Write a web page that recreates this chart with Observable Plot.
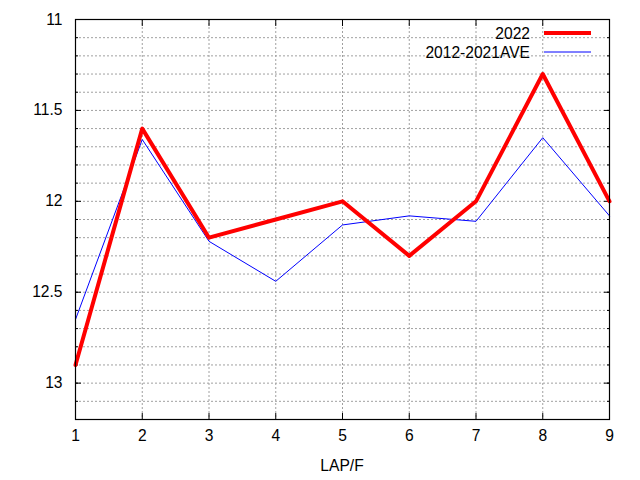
<!DOCTYPE html>
<html>
<head>
<meta charset="utf-8">
<script src="https://cdn.jsdelivr.net/npm/d3@7"></script>
<script src="https://cdn.jsdelivr.net/npm/@observablehq/plot@0.6"></script>
<style>
  html, body { margin: 0; padding: 0; background: #fff; }
  #chart { position: relative; width: 640px; height: 480px; }
</style>
</head>
<body>
<div id="chart"></div>
<script>
const laps = [1, 2, 3, 4, 5, 6, 7, 8, 9];
const values2022 = [12.9, 11.6, 12.2, 12.1, 12.0, 12.3, 12.0, 11.3, 12.0];
const valuesAve = [12.65, 11.66, 12.22, 12.44, 12.13, 12.08, 12.11, 11.65, 12.08];
const seriesNames = ["2022", "2012-2021AVE"];
const seriesColors = ["#ff0000", "#0000ff"];
const yMajorTicks = [11, 11.5, 12, 12.5, 13];
const yGridTicks = d3.range(11, 13.2001, 0.1).map(v => +v.toFixed(1));
const xLabel = "LAP/F";

const rows = [];
laps.forEach((l, i) => {
  rows.push({lap: l, value: values2022[i], series: seriesNames[0]});
  rows.push({lap: l, value: valuesAve[i], series: seriesNames[1]});
});

const font = "'Liberation Sans', Arial, sans-serif";
const fs = 15.6;

const plot = Plot.plot({
  width: 640,
  height: 480,
  marginLeft: 75,
  marginRight: 31,
  marginTop: 19,
  marginBottom: 61,
  style: {fontFamily: font, fontSize: fs + "px", color: "#000", background: "#fff"},
  x: {domain: [1, 9], label: null},
  y: {domain: [11, 13.2], reverse: true, label: null},
  marks: [
    Plot.gridY(yGridTicks, {stroke: "#a0a0a0", strokeOpacity: 1, strokeDasharray: "2,2", strokeWidth: 1}),
    Plot.gridX(laps, {stroke: "#a0a0a0", strokeOpacity: 1, strokeDasharray: "2,2", strokeWidth: 1}),
    Plot.axisY(yGridTicks, {anchor: "left", tickSize: -3, tickFormat: () => "", stroke: "#000"}),
    Plot.axisY(yGridTicks, {anchor: "right", tickSize: -3, tickFormat: () => "", stroke: "#000"}),
    Plot.axisY(yMajorTicks, {anchor: "left", tickSize: -6, tickPadding: 19, tickFormat: d => String(d), fontSize: fs, stroke: "#000"}),
    Plot.axisY(yMajorTicks, {anchor: "right", tickSize: -6, tickFormat: () => "", stroke: "#000"}),
    Plot.axisX(laps, {anchor: "bottom", tickSize: -6, tickPadding: 16, tickFormat: d => String(d), fontSize: fs, stroke: "#000"}),
    Plot.axisX(laps, {anchor: "top", tickSize: -6, tickFormat: () => "", stroke: "#000"}),
    Plot.line(rows.filter(r => r.series === seriesNames[1]), {x: "lap", y: "value", stroke: seriesColors[1], strokeWidth: 1}),
    Plot.line(rows.filter(r => r.series === seriesNames[0]), {x: "lap", y: "value", stroke: seriesColors[0], strokeWidth: 4}),
    Plot.frame({stroke: "#000", strokeWidth: 1.2})
  ]
});
document.getElementById("chart").appendChild(plot);

// x-axis title and legend
const svg = d3.select(plot);
svg.append("text")
  .attr("x", 342).attr("y", 471)
  .attr("text-anchor", "middle")
  .style("font-family", font).style("font-size", fs + "px")
  .attr("fill", "#000")
  .text(xLabel);

const leg = svg.append("g");
seriesNames.forEach((name, i) => {
  const yy = 33 + i * 19;
  leg.append("text")
    .attr("x", 530).attr("y", yy + 5.5)
    .attr("text-anchor", "end")
    .style("font-family", font).style("font-size", fs + "px")
    .attr("fill", "#000")
    .text(name);
  leg.append("line")
    .attr("x1", 544).attr("x2", 591)
    .attr("y1", yy).attr("y2", yy)
    .attr("stroke", seriesColors[i])
    .attr("stroke-width", i === 0 ? 4 : 1);
});
</script>
</body>
</html>
